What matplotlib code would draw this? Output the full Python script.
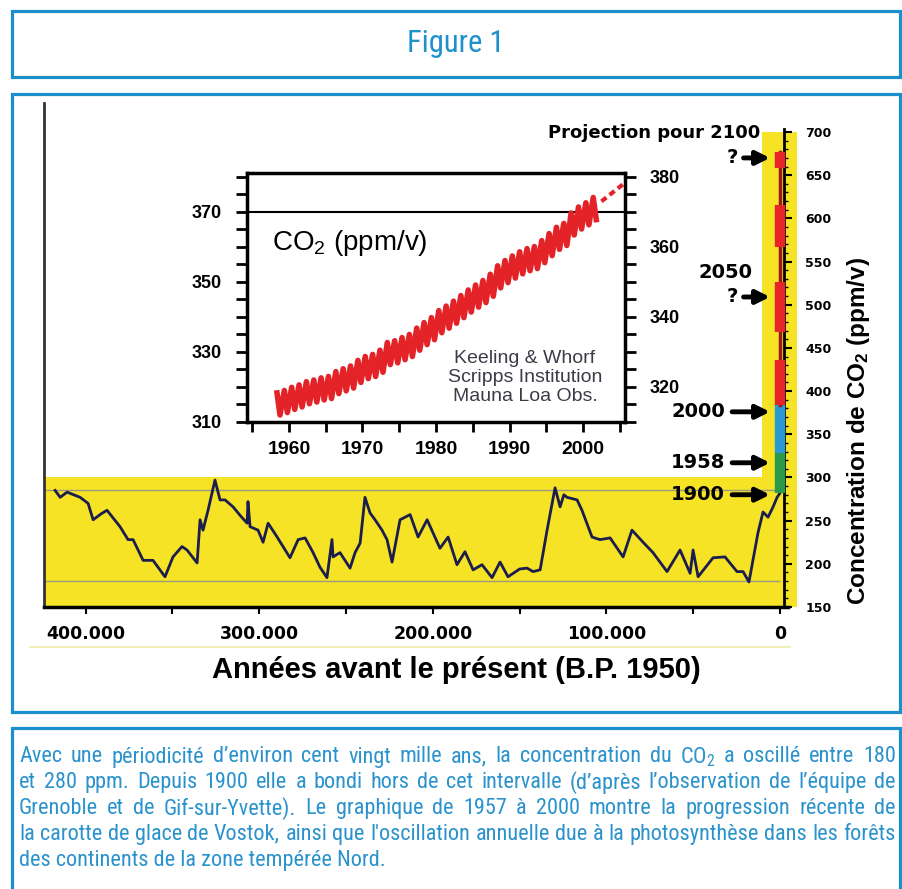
import matplotlib
matplotlib.use("Agg")
import matplotlib.pyplot as plt
from matplotlib.patches import Rectangle
from matplotlib.lines import Line2D
from matplotlib.ticker import FuncFormatter, FixedLocator
from matplotlib import font_manager
import numpy as np

W, H = 903, 889

# --- Vostok ice core (age in thousands of years BP, CO2 ppm/v) ---
vostok_kyr = [417.6, 414.7, 410.7, 403.2, 398.6, 395.7, 391.0, 387.7, 380.2, 375.6, 372.7,
              366.9, 361.2, 354.3, 349.7, 344.5, 341.6, 335.8, 334.1, 332.4, 329.5,
              325.5, 322.6, 319.7, 315.1, 311.0, 307.0, 306.5, 305.3, 300.7, 297.8, 294.9,
              289.7, 282.3, 277.6, 273.6, 269.0, 265.0, 261.0, 258.1, 257.5, 253.5,
              247.7, 244.8, 241.9, 239.1, 236.2, 233.3, 229.3, 226.4, 223.5, 218.9,
              213.1, 208.5, 203.3, 195.9, 191.2, 186.1, 181.5, 176.8, 171.7, 165.9,
              161.3, 156.7, 150.0, 145.7, 142.3, 138.2, 134.2, 129.6, 126.7, 124.5, 122.7, 116.9,
              114.1, 108.3, 103.7, 97.9, 90.4, 85.3, 78.9, 73.2, 65.1, 57.6,
              51.8, 50.1, 47.2, 38.6, 31.7, 24.8, 21.3, 17.9, 12.7, 9.8,
              6.9, 4.0, 1.7, 0.0]
vostok_ppm = [285, 277, 283, 277, 270, 251, 258, 262, 243, 228, 228,
              204, 204, 185, 208, 220, 216, 201, 251, 239, 262,
              297, 274, 274, 266, 256, 247, 272, 243, 239, 225, 247,
              231, 207, 228, 230, 213, 196, 184, 228, 208, 213,
              195, 213, 224, 277, 259, 251, 239, 228, 202, 251,
              257, 231, 251, 218, 231, 199, 214, 193, 199, 184,
              202, 185, 194, 195, 191, 193, 239, 288, 266, 280, 277, 274,
              262, 231, 228, 230, 208, 239, 225, 213, 191, 216,
              189, 216, 185, 207, 208, 191, 191, 179, 236, 260,
              254, 266, 277, 282]

# reference levels (180 / 280 ppm band as drawn)
ref_levels = [180, 285]

# --- recent rise and projections (ppm) on the right-hand strip ---
range_1900_1958 = [282, 328]
range_1958_2000 = [328, 384]
proj_lo = [384, 468, 567, 658]
proj_hi = [436, 526, 615, 677]

arrow_labels = ["1900", "1958", "2000", "?", "?"]
arrow_ppm = [280, 317, 376, 509, 670]

# --- Mauna Loa (Keeling) seasonal highs and lows ---
ml_years = np.arange(1958, 2002)
ml_high = [318.3, 319.0, 319.9, 320.6, 321.5, 322.0, 322.6, 323.0, 324.4, 325.2,
           326.0, 327.6, 328.7, 329.3, 330.5, 332.7, 333.2, 334.1, 335.0, 336.8,
           338.4, 339.8, 341.8, 343.1, 344.5, 346.1, 347.7, 349.1, 350.4, 352.2,
           354.6, 356.1, 357.4, 358.6, 359.5, 360.1, 361.8, 363.8, 365.6, 366.7,
           369.7, 371.4, 372.6, 374.1]
ml_low = [312.0, 312.7, 313.6, 314.3, 315.2, 315.7, 316.3, 316.7, 318.1, 318.9,
          319.7, 321.3, 322.4, 323.0, 324.2, 326.4, 326.9, 327.8, 328.7, 330.5,
          332.1, 333.5, 335.5, 336.8, 338.2, 339.8, 341.4, 342.8, 344.1, 345.9,
          348.3, 349.8, 351.1, 352.3, 353.2, 353.8, 355.5, 357.5, 359.3, 360.4,
          363.4, 365.1, 366.3, 367.8]
ml_ext_years = [2002.5, 2005.5]
ml_ext_ppm = [373, 378]

caption_lines = [
    "Avec une périodicité d\u2019environ cent vingt mille ans, la concentration du $\\mathregular{CO_2}$ a oscillé entre 180",
    "et 280 ppm. Depuis 1900 elle a bondi hors de cet intervalle (d\u2019après l\u2019observation de l\u2019équipe de",
    "Grenoble et de Gif-sur-Yvette). Le graphique de 1957 à 2000 montre la progression récente de",
    "la carotte de glace de Vostok, ainsi que l'oscillation annuelle due à la photosynthèse dans les forêts",
    "des continents de la zone tempérée Nord.",
]

BLUE = "#1b8fcc"
YELLOW = "#f7e325"
HEAVY = "DejaVu Sans"
ARIAL = "Liberation Sans"

# narrow humanist face for the caption if one is installed
installed = {f.name for f in font_manager.fontManager.ttflist}
condensed = [f.name for f in font_manager.fontManager.ttflist
             if f.stretch in ("condensed", "semi-condensed", 500, 600)
             or "Narrow" in f.name or "Condensed" in f.name]
pref = ["Roboto Condensed", "Open Sans Condensed", "Liberation Sans Narrow",
        "DejaVu Sans Condensed"]
CAP_FONT = next((p for p in pref if p in installed), None)
CAP_STRETCH = "normal"
if CAP_FONT is None:
    if any(f.name == "DejaVu Sans" and f.stretch == "condensed"
           for f in font_manager.fontManager.ttflist):
        CAP_FONT, CAP_STRETCH = "DejaVu Sans", "condensed"
    elif condensed:
        CAP_FONT = condensed[0]
    else:
        CAP_FONT = "Lato"


def fx(x):
    return x / W


def fy(y):
    return 1 - y / H


fig = plt.figure(figsize=(W / 100, H / 100), dpi=100)


def frame(x0, y0, x1, y1):
    fig.add_artist(Rectangle((fx(x0), fy(y1)), (x1 - x0) / W, (y1 - y0) / H,
                             transform=fig.transFigure, fill=False, ec=BLUE, lw=2.3))


frame(12, 11, 900, 77)
frame(12, 94, 900, 712)
frame(12, 728, 900, 900)

fig.text(fx(456), fy(43), "Figure 1", ha="center", va="center", fontsize=22,
         family=[CAP_FONT, "Lato"], stretch=CAP_STRETCH, color="#1e90cc")

# ---------------- main chart ----------------
ax = fig.add_axes([fx(44), fy(607), (797.4 - 44) / W, (607 - 103) / H])
ax.set_xlim(424000, -10000)
ax.set_ylim(150, 733.6)
ax.patch.set_alpha(0)

ax.add_patch(Rectangle((424000, 150), -9800 - 424000, 150, color=YELLOW, lw=0, zorder=0))
ax.add_patch(Rectangle((10400, 150), -9800 - 10400, 550, color=YELLOW, lw=0, zorder=0))
ax.hlines(ref_levels, 424000, 0, color="#9a9a80", lw=1, zorder=1)

age = np.array(vostok_kyr) * 1000
ax.plot(age, vostok_ppm, color="#1b1d4e", lw=2, zorder=3)

ax.plot([0, 0], range_1900_1958, color="#2a9a4a", lw=7.5, solid_capstyle="butt", zorder=4)
ax.plot([0, 0], range_1958_2000, color="#2a9ad3", lw=7.5, solid_capstyle="butt", zorder=4)
ax.plot([0, 0], [proj_lo[0], proj_hi[-1]], color="#a01818", lw=2.5, zorder=4)
for lo, hi in zip(proj_lo, proj_hi):
    ax.plot([0, 0], [lo, hi], color="#e6242a", lw=7.5, solid_capstyle="butt", zorder=5)

for lab, v in zip(arrow_labels, arrow_ppm):
    tail, txt = (21000, 24500) if lab == "?" else (27600, 31700)
    ax.annotate("", xy=(5800, v), xytext=(tail, v),
                arrowprops=dict(arrowstyle="-|>", lw=3.5, color="black",
                                mutation_scale=20, shrinkA=0, shrinkB=0), zorder=6)
    ax.text(txt, v, lab, ha="right", va="center", fontsize=14,
            family=HEAVY, weight="bold", zorder=6)
ax.text(16000, 537, "2050", ha="right", va="center", fontsize=14, family=HEAVY, weight="bold")
ax.text(11500, 699, "Projection pour 2100", ha="right", va="center", fontsize=13,
        family=HEAVY, weight="bold")

ax.spines["top"].set_visible(False)
ax.spines["left"].set_linewidth(2)
ax.spines["left"].set_color("#333333")
ax.spines["bottom"].set_linewidth(2.5)
ax.spines["bottom"].set_bounds(424000, -4600)
ax.spines["right"].set_position(("data", -2500))
ax.spines["right"].set_bounds(150, 703)
ax.spines["right"].set_linewidth(2)

ax.yaxis.tick_right()
ax.set_yticks(np.arange(150, 701, 50))
ax.yaxis.set_minor_locator(FixedLocator(np.arange(150, 701, 10)))
ax.tick_params(axis="y", which="major", direction="out", length=6, width=1.5, pad=9,
               labelsize=9)
ax.tick_params(axis="y", which="minor", direction="out", length=3, width=1)
for t in ax.get_yticklabels():
    t.set_family(HEAVY)
    t.set_weight("bold")

ax.set_xticks([400000, 300000, 200000, 100000, 0])
ax.xaxis.set_minor_locator(FixedLocator([350000, 250000, 150000, 50000]))
ax.xaxis.set_major_formatter(FuncFormatter(lambda v, p: f"{int(v):,}".replace(",", ".")))
ax.tick_params(axis="x", which="both", direction="out", length=5, width=1.5, pad=8,
               labelsize=12.5)
for t in ax.get_xticklabels():
    t.set_family(HEAVY)
    t.set_weight("bold")

ax.set_xlabel("Années avant le présent (B.P. 1950)", fontsize=21, family=ARIAL,
              weight="bold")
ax.xaxis.set_label_coords((456 - 44) / 753.4, (607 - 670) / 504)
ax.xaxis.label.set_va("center")
ax.text((858 - 44) / 753.4, (607 - 431) / 504,
        "Concentration de $\\mathregular{CO_2}$ (ppm/v)", transform=ax.transAxes,
        rotation=90, ha="center", va="center", fontsize=17.5, family=ARIAL, weight="bold")

fig.add_artist(Line2D([fx(30), fx(790)], [fy(647), fy(647)], color="#f2eebb", lw=1.5))

# ---------------- inset: Mauna Loa ----------------
axi = fig.add_axes([fx(247), fy(422), (625 - 247) / W, (422 - 173) / H])
axi.set_xlim(1954.3, 2005.7)
axi.set_ylim(310, 381.1)
axi.axhline(370, color="black", lw=1.5)

t = np.ravel(np.column_stack([ml_years + 0.38, ml_years + 0.79]))
v = np.ravel(np.column_stack([ml_high, ml_low]))
axi.plot(t, v, color="#e42328", lw=4, solid_joinstyle="round")
axi.plot(ml_ext_years, ml_ext_ppm, color="#e42328", lw=3, ls=(0, (1.5, 1)))

for s in axi.spines.values():
    s.set_linewidth(2.5)

yt = np.arange(310, 381, 5)
axi.set_yticks(yt, [str(y) if y in (310, 330, 350, 370) else "" for y in yt])
xt = np.arange(1955, 2006, 5)
axi.set_xticks(xt, [str(x) if x % 10 == 0 else "" for x in xt])
axi.tick_params(axis="y", direction="out", length=8, width=2, pad=10, labelsize=13)
axi.tick_params(axis="x", direction="out", length=7, width=2, pad=7, labelsize=14)
for lab in axi.get_xticklabels() + axi.get_yticklabels():
    lab.set_family(ARIAL)
    lab.set_weight("bold")

axr = axi.twinx()
axr.set_ylim(310, 381.1)
axr.set_yticks(yt, [str(y) if y in (320, 340, 360, 380) else "" for y in yt])
axr.tick_params(axis="y", direction="out", length=8, width=2, pad=10, labelsize=13)
for lab in axr.get_yticklabels():
    lab.set_family(ARIAL)
    lab.set_weight("bold")
for s in axr.spines.values():
    s.set_visible(False)

axi.text(1957.7, 361, "$\\mathregular{CO_2}$ (ppm/v)", ha="left", va="center",
         fontsize=20, family=ARIAL)
axi.text(1992.1, 322.6, "Keeling & Whorf\nScripps Institution\nMauna Loa Obs.",
         ha="center", va="center", fontsize=14, family=ARIAL, color="#3c3c48",
         linespacing=1.15)

# ---------------- caption (justified) ----------------
cap_kw = dict(family=[CAP_FONT, "Lato"], stretch=CAP_STRETCH, color="#2a92cc", va="center")
renderer = fig.canvas.get_renderer()
x0, x1 = 19, 896
base = 12
probe = [fig.text(0, 0, line, fontsize=base, **cap_kw) for line in caption_lines]
nat = [p.get_window_extent(renderer).width for p in probe]
for p in probe:
    p.remove()
# size so that the full lines sit close to the box width on average
size = base * (x1 - x0) / (sum(nat[:4]) / 4) * 0.985
size = min(size, base * (x1 - x0) / max(nat) * 0.995)

for i, line in enumerate(caption_lines):
    y = fy(757 + i * 25.8)
    if i == len(caption_lines) - 1:
        fig.text(fx(x0), y, line, fontsize=size, **cap_kw)
        continue
    words = line.split(" ")
    texts = [fig.text(0, y, w, fontsize=size, **cap_kw) for w in words]
    widths = [tx.get_window_extent(renderer).width for tx in texts]
    gap = (x1 - x0 - sum(widths)) / (len(words) - 1)
    x = x0
    for tx, wd in zip(texts, widths):
        tx.set_x(fx(x))
        x += wd + gap

fig.savefig("out.png", dpi=100)
